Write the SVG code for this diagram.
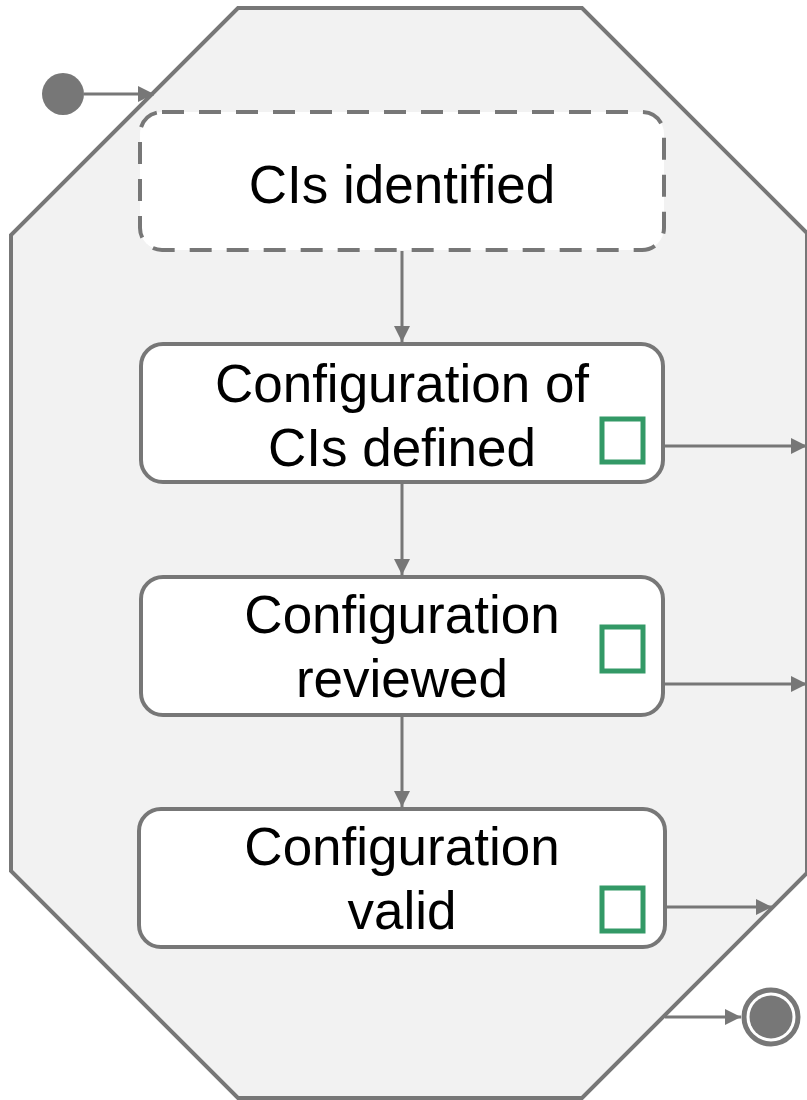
<svg xmlns="http://www.w3.org/2000/svg" width="807" height="1100" viewBox="0 0 807 1100">
  <style>
    .frame { fill: #f2f2f2; stroke: #777777; stroke-width: 4; }
    .state { fill: #ffffff; stroke: #777777; stroke-width: 4; }
    .dashed { stroke-dasharray: 22 15; }
    .label { font-family: "Liberation Sans", Arial, sans-serif; font-size: 53px; fill: #000000; text-anchor: middle; }
    .flag { fill: #ffffff; stroke: #339966; stroke-width: 5; }
    .edge { fill: none; stroke: #777777; stroke-width: 3; }
    .dot { fill: #777777; }
  </style>
  <defs>
    <marker id="arrow" markerUnits="userSpaceOnUse" markerWidth="16" markerHeight="16" viewBox="0 0 16 16" refX="16" refY="8" orient="auto">
      <path d="M0,0 L16,8 L0,16 Z" fill="#777777"/>
    </marker>
  </defs>

  <!-- composite state outline -->
  <g id="composite">
    <polygon class="frame" points="238,8 582,8 807,233 807,873 582,1098 238,1098 11,871 11,235"/>
  </g>

  <!-- pseudo states -->
  <g id="initial">
    <circle class="dot" cx="63" cy="94" r="21"/>
  </g>
  <g id="final">
    <circle cx="771" cy="1017" r="27" fill="#ffffff" stroke="#777777" stroke-width="5"/>
    <circle class="dot" cx="771" cy="1017" r="21.5"/>
  </g>

  <!-- states -->
  <g id="cis-identified">
    <rect class="state dashed" x="140" y="112" width="524" height="138" rx="22"/>
    <text class="label" x="402" y="203">CIs identified</text>
  </g>
  <g id="configuration-defined">
    <rect class="state" x="141" y="344" width="522" height="138" rx="22"/>
    <text class="label" x="402" y="402">Configuration of</text>
    <text class="label" x="402" y="466">CIs defined</text>
    <rect class="flag" x="602" y="419" width="41" height="43"/>
  </g>
  <g id="configuration-reviewed">
    <rect class="state" x="141" y="577" width="522" height="138" rx="22"/>
    <text class="label" x="402" y="633">Configuration</text>
    <text class="label" x="402" y="697">reviewed</text>
    <rect class="flag" x="602" y="627" width="41" height="44"/>
  </g>
  <g id="configuration-valid">
    <rect class="state" x="139" y="809" width="526" height="138" rx="22"/>
    <text class="label" x="402" y="865">Configuration</text>
    <text class="label" x="402" y="929">valid</text>
    <rect class="flag" x="602" y="888" width="41" height="43"/>
  </g>

  <!-- transitions -->
  <g id="connectors">
    <line class="edge" x1="84" y1="94" x2="154" y2="94" marker-end="url(#arrow)"/>
    <line class="edge" x1="402" y1="251" x2="402" y2="342" marker-end="url(#arrow)"/>
    <line class="edge" x1="402" y1="484" x2="402" y2="575" marker-end="url(#arrow)"/>
    <line class="edge" x1="402" y1="717" x2="402" y2="807" marker-end="url(#arrow)"/>
    <line class="edge" x1="665" y1="446" x2="807" y2="446" marker-end="url(#arrow)"/>
    <line class="edge" x1="665" y1="684" x2="807" y2="684" marker-end="url(#arrow)"/>
    <line class="edge" x1="667" y1="907" x2="772" y2="907" marker-end="url(#arrow)"/>
    <line class="edge" x1="665" y1="1017" x2="741" y2="1017" marker-end="url(#arrow)"/>
  </g>
</svg>
